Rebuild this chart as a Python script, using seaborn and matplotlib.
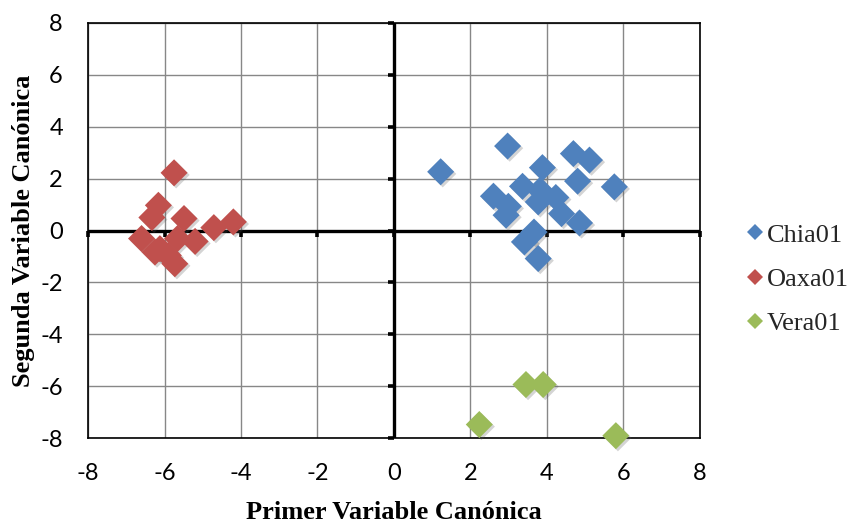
import matplotlib
matplotlib.use("Agg")
import matplotlib.pyplot as plt
import seaborn as sns
import pandas as pd
from matplotlib.lines import Line2D
from matplotlib import patheffects as pe

# Canonical scores per accession
chia_x = [1.22, 2.97, 3.88, 4.69, 5.11, 4.80, 5.76, 3.36, 2.60, 2.99, 2.93,
          3.82, 3.77, 4.23, 4.38, 4.85, 3.66, 3.41, 3.77]
chia_y = [2.26, 3.25, 2.42, 2.96, 2.71, 1.90, 1.68, 1.70, 1.32, 0.93, 0.59,
          1.55, 1.10, 1.27, 0.65, 0.29, -0.06, -0.44, -1.08]

oaxa_x = [-5.75, -6.16, -6.33, -5.49, -4.71, -4.20, -6.60, -5.20, -5.66,
          -6.12, -6.25, -5.73, -5.90]
oaxa_y = [2.22, 0.97, 0.50, 0.46, 0.11, 0.33, -0.31, -0.42, -0.31,
          -0.70, -0.83, -1.28, -0.96]

vera_x = [2.23, 3.45, 3.90, 5.80]
vera_y = [-7.47, -5.93, -5.93, -7.90]

groups = ["Chia01", "Oaxa01", "Vera01"]
colors = ["#4F81BD", "#C0504D", "#9BBB59"]

ticks = [-8, -6, -4, -2, 0, 2, 4, 6, 8]
tick_labels = ["-8", "-6", "-4", "-2", "0", "2", "4", "6", "8"]

df = pd.concat([
    pd.DataFrame({"x": chia_x, "y": chia_y, "grupo": groups[0]}),
    pd.DataFrame({"x": oaxa_x, "y": oaxa_y, "grupo": groups[1]}),
    pd.DataFrame({"x": vera_x, "y": vera_y, "grupo": groups[2]}),
], ignore_index=True)
palette = dict(zip(groups, colors))

sns.set_theme(style="white")
plt.rcParams["axes.unicode_minus"] = False

W, H = 851, 523
fig = plt.figure(figsize=(W / 100, H / 100), dpi=100)
ax = fig.add_axes([88 / W, 1 - 438.3 / H, (700 - 88) / W, (438.3 - 22.7) / H])

sns.scatterplot(data=df, x="x", y="y", hue="grupo", palette=palette,
                marker="D", s=190, linewidth=0, edgecolor="none",
                legend=False, ax=ax, zorder=5)
for coll in ax.collections:
    coll.set_clip_on(False)
    coll.set_path_effects([pe.SimplePatchShadow(offset=(1.5, -1.5),
                                                shadow_rgbFace="#555555",
                                                alpha=0.25),
                           pe.Normal()])

ax.set_xlim(ticks[0], ticks[-1])
ax.set_ylim(ticks[0], ticks[-1])
ax.set_xticks(ticks)
ax.set_yticks(ticks)
tick_font = dict(family="Lato", size=17)
ax.set_xticklabels(tick_labels, fontdict=tick_font)
ax.set_yticklabels(tick_labels, fontdict=tick_font)
ax.tick_params(axis="both", length=0, pad=18, colors="black")

ax.grid(True, color="#878787", linewidth=1.0, zorder=0)
ax.set_axisbelow(True)
for sp in ax.spines.values():
    sp.set_visible(True)
    sp.set_color("black")
    sp.set_linewidth(1.2)

# Axes through the origin with their tick marks
ax.axhline(0, color="black", lw=2.4, zorder=3)
ax.axvline(0, color="black", lw=2.4, zorder=3)
ax.plot(ticks, [0] * len(ticks), ls="none", marker=3, ms=4.5, mew=2.6,
        color="black", zorder=3, clip_on=False)
ax.plot([0] * len(ticks), ticks, ls="none", marker=0, ms=4.5, mew=2.6,
        color="black", zorder=3, clip_on=False)

title_font = dict(family="Liberation Serif", weight="bold", size=19)
ax.set_xlabel("Primer Variable Canónica", fontdict=title_font, labelpad=12,
              color="black")
ax.set_ylabel("Segunda Variable Canónica", fontdict=title_font, labelpad=4,
              color="black")

handles = [Line2D([], [], ls="none", marker="D", ms=8.6, color=c,
                  markeredgewidth=0) for c in colors]
fig.legend(handles, groups, loc="center left",
           bbox_to_anchor=(736 / W, 1 - 279 / H), frameon=False,
           prop=dict(family="Liberation Serif", size=19),
           handlelength=0.64, handletextpad=0.13, labelspacing=0.78,
           borderaxespad=0)

fig.savefig("out.png", dpi=100, facecolor="white")
